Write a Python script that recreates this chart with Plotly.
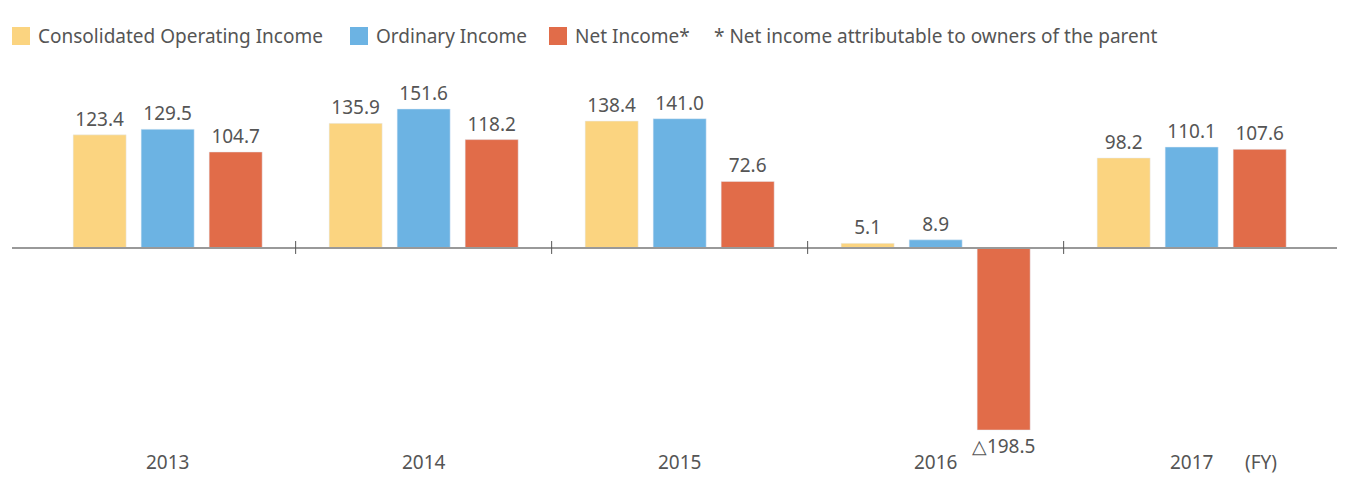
import plotly.graph_objects as go

years = ['2013', '2014', '2015', '2016', '2017']
series_names = ['Consolidated Operating Income', 'Ordinary Income', 'Net Income*']
operating_income = [123.4, 135.9, 138.4, 5.1, 98.2]
ordinary_income = [129.5, 151.6, 141.0, 8.9, 110.1]
net_income = [104.7, 118.2, 72.6, -198.5, 107.6]
footnote = '* Net income attributable to owners of the parent'
colors = ['#FBD480', '#6CB3E3', '#E16C49']

# page body has an 8px margin, so the figure is drawn 8px in from the window edge
OFF = 8
W, H = 1345 - OFF, 478 - OFF
L, T = 12 - OFF, 60 - OFF
FONT = 'Noto Sans'
GREY = '#555555'


def px(x):
    return (x - OFF - L) / (W - L)


def py(y):
    return (H - (y - OFF)) / (H - T)


def fmt(v):
    return ('△%.1f' % -v) if v < 0 else '%.1f' % v


fig = go.Figure()
for name, vals, col in zip(series_names, [operating_income, ordinary_income, net_income], colors):
    fig.add_trace(go.Bar(x=years, y=vals, name=name, marker_color=col,
                         text=[fmt(v) for v in vals], textposition='outside',
                         constraintext='none',
                         textfont=dict(family=FONT, size=19, color=GREY),
                         cliponaxis=False, showlegend=False))

shapes = [dict(type='line', xref='paper', yref='y', x0=0, x1=1, y0=0, y1=0,
               line=dict(color='#999999', width=2))]
for i in range(len(years) - 1):
    shapes.append(dict(type='line', xref='x', yref='y', x0=i + 0.5, x1=i + 0.5, y0=7.6, y1=-6.5,
                       line=dict(color='#555555', width=1)))

annotations = []
for i, yr in enumerate(years):
    annotations.append(dict(x=i, y=py(462), xref='x', yref='paper', text=yr, showarrow=False,
                            yanchor='middle', font=dict(family=FONT, size=19, color=GREY)))
annotations.append(dict(x=4.27, y=py(462), xref='x', yref='paper', text='(FY)', showarrow=False,
                        yanchor='middle', font=dict(family=FONT, size=19, color=GREY)))

# custom legend row
leg_x = [12, 350, 549]
for lx, name, col in zip(leg_x, series_names, colors):
    shapes.append(dict(type='rect', xref='paper', yref='paper', x0=px(lx), x1=px(lx + 18),
                       y0=py(45), y1=py(27), fillcolor=col, line=dict(width=0)))
    annotations.append(dict(x=px(lx + 24), y=py(36), xref='paper', yref='paper', text=name,
                            xanchor='left', yanchor='middle', showarrow=False,
                            font=dict(family=FONT, size=19, color=GREY)))
annotations.append(dict(x=px(712), y=py(36), xref='paper', yref='paper', text=footnote,
                        xanchor='left', yanchor='middle', showarrow=False,
                        font=dict(family=FONT, size=19, color=GREY)))

fig.update_layout(
    width=W, height=H,
    margin=dict(l=L, r=0, t=T, b=0),
    plot_bgcolor='white', paper_bgcolor='white',
    barmode='group', bargap=0.203, bargroupgap=0.22,
    xaxis=dict(range=[-0.608, 4.599], showticklabels=False, showgrid=False, zeroline=False),
    yaxis=dict(range=[-250.8, 205], visible=False, showgrid=False, zeroline=False),
    shapes=shapes, annotations=annotations,
)
fig.write_html('out.html')
